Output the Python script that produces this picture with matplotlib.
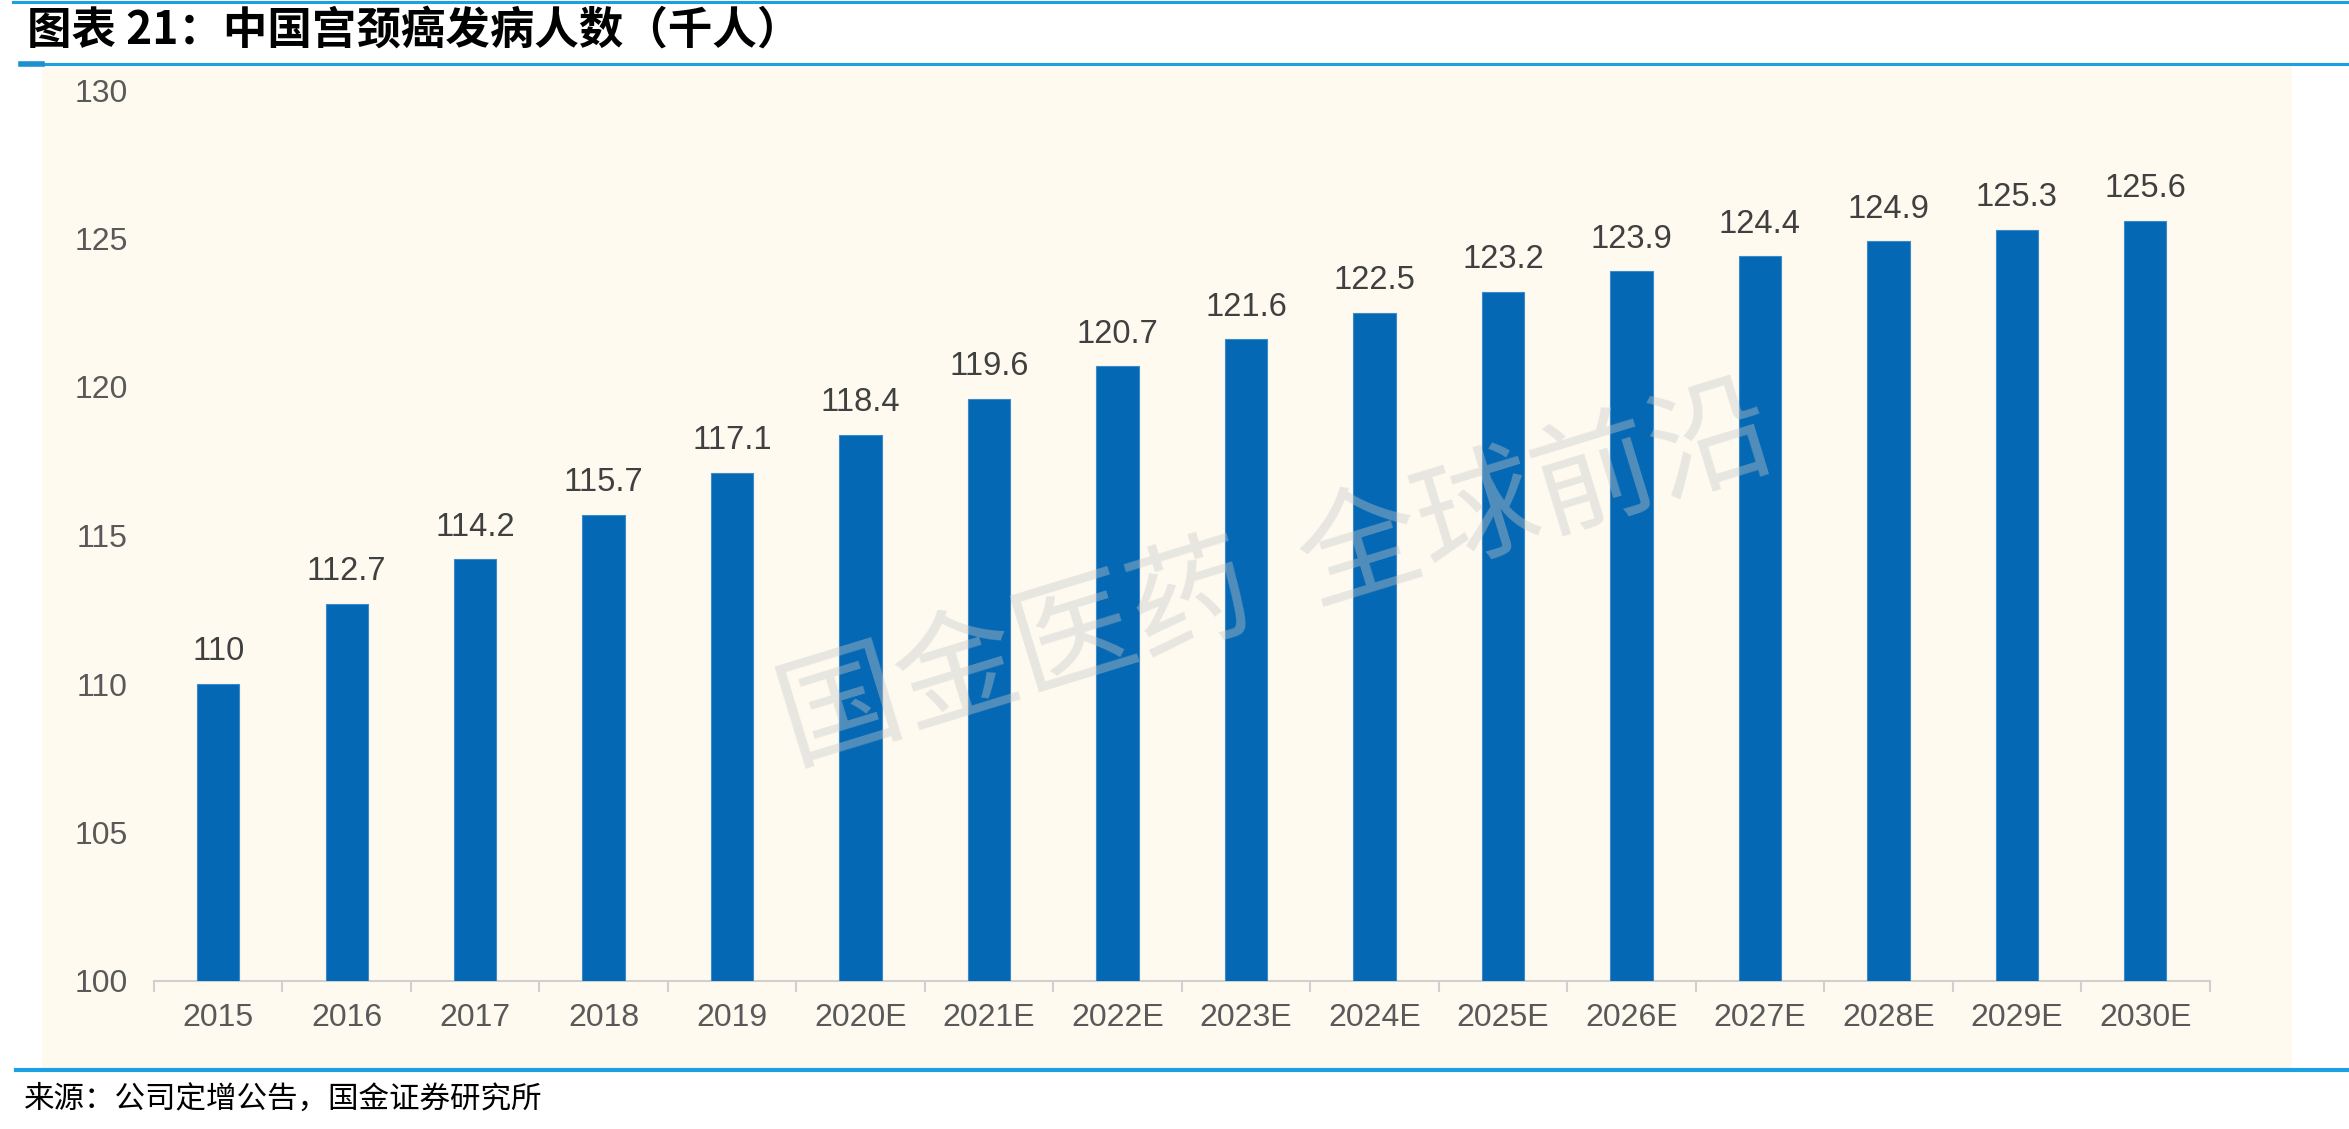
import matplotlib
matplotlib.use('Agg')
import matplotlib.pyplot as plt
from matplotlib.patches import Rectangle
from matplotlib.lines import Line2D
import numpy as np

# ---- data ----
years = ['2015', '2016', '2017', '2018', '2019', '2020E', '2021E', '2022E',
         '2023E', '2024E', '2025E', '2026E', '2027E', '2028E', '2029E', '2030E']
cases = [110, 112.7, 114.2, 115.7, 117.1, 118.4, 119.6, 120.7,
         121.6, 122.5, 123.2, 123.9, 124.4, 124.9, 125.3, 125.6]
yticks = [100, 105, 110, 115, 120, 125, 130]

title = '图表 21：中国宫颈癌发病人数（千人）'
source = '来源：公司定增公告，国金证券研究所'
watermark = '国金医药  全球前沿'

plt.rcParams['font.family'] = ['Liberation Sans', 'Noto Sans CJK SC', 'DejaVu Sans']

W, H = 2349, 1129
fig = plt.figure(figsize=(W / 100, H / 100), dpi=100)
fig.patch.set_facecolor('white')

# cream panel behind the chart
fig.patches.append(Rectangle((42 / W, 1 - 1068 / H), (2292 - 42) / W, (1068 - 66) / H,
                             transform=fig.transFigure, facecolor='#FEFAF0',
                             edgecolor='none', zorder=-5))

# blue rules
blue = '#1BA1E2'
fig.add_artist(Line2D([13 / W, 1], [1 - 1.5 / H] * 2, color=blue, lw=2.2))
fig.add_artist(Line2D([21 / W, 1], [1 - 64 / H] * 2, color=blue, lw=2.2))
fig.add_artist(Line2D([21 / W, 42 / W], [1 - 64 / H] * 2, color='#1C8FD0', lw=4))
fig.add_artist(Line2D([16 / W, 1], [1 - 1070 / H] * 2, color=blue, lw=3))

fig.text(27 / W, 1 - 31 / H, title, fontsize=32, fontweight='bold',
         family=['Noto Sans CJK SC'], ha='left', va='center', color='black')
fig.text(24 / W, 1 - 1099 / H, source, fontsize=22,
         family=['Noto Sans CJK SC'], ha='left', va='center', color='black')

ax = fig.add_axes([154 / W, 1 - 981 / H, (2209.5 - 154) / W, (981 - 90) / H])
ax.patch.set_alpha(0)

x = np.arange(len(years))
bars = ax.bar(x, cases, width=0.33, color='#0468B4', edgecolor='#3C8AC8',
              linewidth=0.8, zorder=3)
for xi, v in zip(x, cases):
    ax.annotate(f'{v:g}', (xi, v), xytext=(0, 12), textcoords='offset points',
                ha='center', va='bottom', fontsize=23.5, color='#404040')

ax.set_xlim(-0.5, len(years) - 0.5)
ax.set_ylim(100, 130)
ax.set_yticks(yticks)
ax.set_yticklabels([str(t) for t in yticks], fontsize=23, color='#595959')
ax.set_xticks(x)
ax.set_xticklabels(years, fontsize=23, color='#595959')
ax.set_xticks(np.arange(-0.5, len(years), 1), minor=True)
ax.tick_params(axis='y', length=0, pad=19)
ax.tick_params(axis='x', which='major', length=0, pad=16)
ax.tick_params(axis='x', which='minor', length=8, color='#D0D0D0', width=1.5)

for s in ['left', 'right', 'top']:
    ax.spines[s].set_visible(False)
ax.spines['bottom'].set_color('#D0D0D0')
ax.spines['bottom'].set_linewidth(1.5)

# watermark
fig.text(1277 / W, 1 - 578 / H, watermark, fontsize=88, color='#C8C8C8', alpha=0.4,
         family=['Noto Sans CJK SC'], rotation=17, ha='center', va='center',
         rotation_mode='anchor', zorder=5)

fig.savefig('out.png', dpi=100, facecolor='white')
